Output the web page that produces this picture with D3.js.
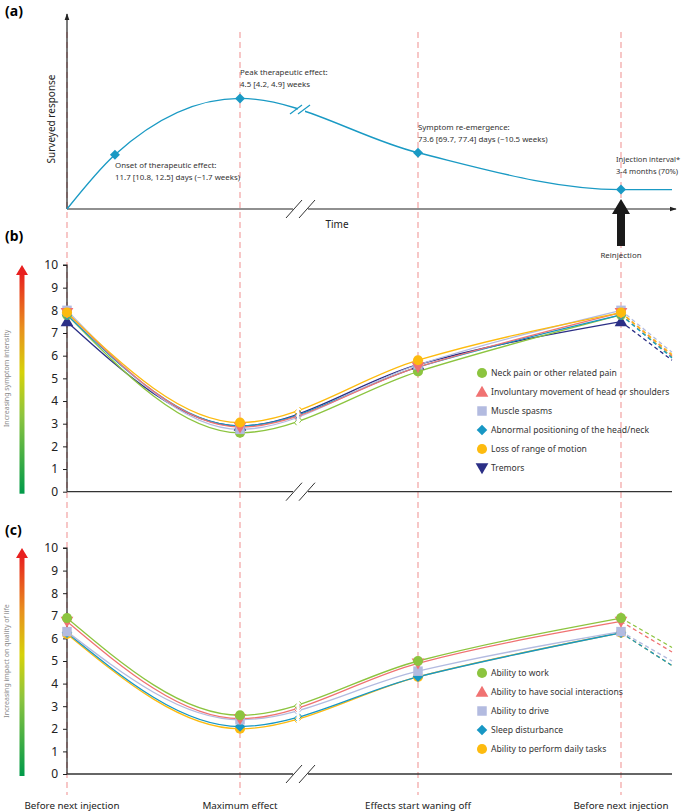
<!DOCTYPE html>
<html><head><meta charset="utf-8">
<script src="https://cdn.jsdelivr.net/npm/d3@7"></script>
<style>body{margin:0;background:#fff;} text{font-family:"Noto Sans",sans-serif;}</style>
</head><body>
<svg id="c" width="685" height="811"></svg>
<script>
// ---------- DATA ----------
const stages = ["Before next injection","Maximum effect","Effects start waning off","Before next injection"];
const stageIdx = [0,1,2,3];
const projStage = 3.25;
const yTicks = [0,1,2,3,4,5,6,7,8,9,10];

// panel (a)
const aStage = [0, 0.277, 1, 2, 3, 3.25];
const aResponse = [0, 2.8, 5.7, 2.9, 1.0, 1.0];
const aMarkerIdx = [1,2,3,4];
const aLabels = [
  ["Onset of therapeutic effect:","11.7 [10.8, 12.5] days (~1.7 weeks)"],
  ["Peak therapeutic effect:","4.5 [4.2, 4.9] weeks"],
  ["Symptom re-emergence:","73.6 [69.7, 77.4] days (~10.5 weeks)"],
  ["Injection interval*","3-4 months (70%)"]
];

// panel (b) symptoms
const symptomNames = ["Neck pain or other related pain","Involuntary movement of head or shoulders","Muscle spasms","Abnormal positioning of the head/neck","Loss of range of motion","Tremors"];
const neckPain   = [7.8, 2.6, 5.3, 7.8];
const involMove  = [7.9, 2.85, 5.5, 7.9];
const spasms     = [8.0, 2.75, 5.6, 8.0];
const abnormPos  = [7.8, 2.9, 5.5, 7.8];
const lossRange  = [7.9, 3.05, 5.8, 7.9];
const tremors    = [7.5, 2.9, 5.6, 7.5];
const symptomProj = [5.95, 6.0, 6.15, 5.9, 6.05, 5.8];

// panel (c) quality of life
const qolNames = ["Ability to work","Ability to have social interactions","Ability to drive","Sleep disturbance","Ability to perform daily tasks"];
const work    = [6.9, 2.6, 5.0, 6.9];
const social  = [6.75, 2.45, 4.9, 6.75];
const drive   = [6.3, 2.4, 4.55, 6.3];
const sleep   = [6.25, 2.1, 4.3, 6.25];
const daily   = [6.2, 2.0, 4.3, 6.25];
const qolProj = [5.6, 5.4, 5.0, 4.8, 4.8];

// styles
const colGreen="#8cc43f", colRed="#f07272", colLav="#b3bbe0", colTeal="#1797c4", colYel="#fdbb0f", colNavy="#2b2f86";

const svg = d3.select("#c");
const x = d3.scaleLinear().domain([0,1,2,3,3.25]).range([67,240,418,621,672]);

svg.append("g").selectAll("line").data(stageIdx).join("line")
  .attr("x1",d=>x(d)).attr("x2",d=>x(d)).attr("y1",32).attr("y2",795)
  .attr("stroke","#f6b9b9").attr("stroke-width",1.6).attr("stroke-dasharray","6,4");

const defs = svg.append("defs");
defs.append("marker").attr("id","arr").attr("viewBox","0 0 10 10").attr("refX",9).attr("refY",5)
  .attr("markerWidth",6).attr("markerHeight",6).attr("orient","auto")
  .append("path").attr("d","M0,1.5L10,5L0,8.5Z").attr("fill","#222");
const clip = defs.append("clipPath").attr("id","brk");
clip.append("rect").attr("x",0).attr("y",0).attr("width",295).attr("height",811);
clip.append("rect").attr("x",301).attr("y",0).attr("width",400).attr("height",811);
const clipA = defs.append("clipPath").attr("id","brkA");
clipA.append("rect").attr("x",0).attr("y",0).attr("width",298).attr("height",811);
clipA.append("rect").attr("x",305).attr("y",0).attr("width",400).attr("height",811);

const grad = defs.append("linearGradient").attr("id","grad").attr("x1",0).attr("y1",1).attr("x2",0).attr("y2",0);
grad.append("stop").attr("offset","0%").attr("stop-color","#009a49");
grad.append("stop").attr("offset","35%").attr("stop-color","#8cc43f");
grad.append("stop").attr("offset","55%").attr("stop-color","#d6d20a");
grad.append("stop").attr("offset","75%").attr("stop-color","#e8901e");
grad.append("stop").attr("offset","100%").attr("stop-color","#e8201f");

function brkSlashes(g, cx, cy){
  [0,13].forEach(o=>{
    g.append("line").attr("x1",cx+o-8).attr("y1",cy+9).attr("x2",cx+o+8).attr("y2",cy-9)
      .attr("stroke","#333").attr("stroke-width",1);
  });
}

// ---------- PANEL (a) ----------
{
  const yA = d3.scaleLinear().domain([0,10]).range([209,15]);
  const g = svg.append("g");
  g.append("text").attr("x",5).attr("y",16).attr("font-size",14).attr("font-weight","bold").attr("font-family","Liberation Sans, Arial").text("(a)");
  g.append("line").attr("x1",67).attr("y1",209).attr("x2",67).attr("y2",14).attr("stroke","#222").attr("stroke-width",1.2).attr("marker-end","url(#arr)");
  g.append("line").attr("x1",67).attr("y1",209).attr("x2",293).attr("y2",209).attr("stroke","#222").attr("stroke-width",1.2);
  g.append("line").attr("x1",308).attr("y1",209).attr("x2",676).attr("y2",209).attr("stroke","#222").attr("stroke-width",1.2).attr("marker-end","url(#arr)");
  brkSlashes(g, 294, 209);
  g.append("text").attr("x",337).attr("y",228).attr("text-anchor","middle").attr("font-size",10).attr("fill","#222").text("Time");
  g.append("text").attr("transform","translate(55,119) rotate(-90)").attr("text-anchor","middle").attr("font-size",10).attr("fill","#222").text("Surveyed response");
  const pts = aStage.map((s,i)=>[x(s), yA(aResponse[i])]);
  g.append("path").attr("d", d3.line().curve(d3.curveMonotoneX)(pts)).attr("fill","none")
    .attr("stroke","#1a9ac4").attr("stroke-width",1.4).attr("clip-path","url(#brkA)");
  [296,304].forEach(xx=>{
    g.append("line").attr("x1",xx-6).attr("y1",114).attr("x2",xx+6).attr("y2",105).attr("stroke","#1a9ac4").attr("stroke-width",1.2);
  });
  aMarkerIdx.forEach(i=>{
    g.append("path").attr("d",d3.symbol(d3.symbolSquare,50)())
      .attr("transform",`translate(${pts[i][0]},${pts[i][1]}) rotate(45)`).attr("fill","#1a9ac4");
  });
  const lblPos = [[115,168],[240,75],[418,130],[616,162]];
  aLabels.forEach((l,i)=>{
    const t = g.append("text").attr("x",lblPos[i][0]).attr("y",lblPos[i][1]).attr("font-size",i===3?7.6:7.9).attr("fill","#333");
    t.append("tspan").attr("x",lblPos[i][0]).text(l[0]);
    t.append("tspan").attr("x",lblPos[i][0]).attr("dy",11.5).text(l[1]);
  });
  const ax = x(3);
  g.append("path").attr("d",`M${ax-4},246 L${ax-4},214 L${ax-9},214 L${ax},199 L${ax+9},214 L${ax+4},214 L${ax+4},246 Z`).attr("fill","#1a1a1a");
  g.append("text").attr("x",ax).attr("y",258).attr("text-anchor","middle").attr("font-size",7.9).attr("fill","#333").text("Reinjection");
}

// ---------- generic panel ----------
const shapes = {
  circle: d3.symbol(d3.symbolCircle, 80),
  square: d3.symbol(d3.symbolSquare, 90),
  diamond: d3.symbol(d3.symbolSquare, 56),
  triUp: d3.symbol(d3.symbolTriangle, 70),
};
function marker(g, shape, cx, cy, color){
  let p = g.append("path").attr("fill",color);
  if(shape==="circle") p.attr("d",shapes.circle()).attr("transform",`translate(${cx},${cy})`);
  else if(shape==="square") p.attr("d",shapes.square()).attr("transform",`translate(${cx},${cy})`);
  else if(shape==="diamond") p.attr("d",shapes.diamond()).attr("transform",`translate(${cx},${cy}) rotate(45)`);
  else if(shape==="triUp") p.attr("d",shapes.triUp()).attr("transform",`translate(${cx},${cy+1})`);
  else if(shape==="triDown") p.attr("d",shapes.triUp()).attr("transform",`translate(${cx},${cy-1}) rotate(180)`);
}

function panel(cfg){
  const y = d3.scaleLinear().domain([0,10]).range([cfg.y0, cfg.y10]);
  const g = svg.append("g");
  g.append("text").attr("x",5).attr("y",cfg.labelY).attr("font-size",14).attr("font-weight","bold").attr("font-family","Liberation Sans, Arial").text(cfg.label);
  const ax = g.append("g").attr("transform","translate(67,0)").call(d3.axisLeft(y).tickValues(yTicks).tickSize(4).tickPadding(5).tickFormat(d3.format("d")));
  ax.select(".domain").attr("stroke","#222").attr("stroke-width",1.2).attr("d",`M-4,${cfg.y10}H0V${cfg.y0}`);
  ax.selectAll(".tick line").attr("stroke","#222");
  ax.selectAll(".tick text").attr("font-size",12).attr("fill","#222").attr("font-family","Noto Sans, sans-serif");
  g.append("line").attr("x1",67).attr("y1",cfg.y0).attr("x2",293).attr("y2",cfg.y0).attr("stroke","#333").attr("stroke-width",1.3);
  g.append("line").attr("x1",308).attr("y1",cfg.y0).attr("x2",672).attr("y2",cfg.y0).attr("stroke","#333").attr("stroke-width",1.3);
  brkSlashes(g, 294, cfg.y0);
  const gx = 22;
  g.append("rect").attr("x",gx-2.5).attr("y",cfg.y10+8).attr("width",5).attr("height",cfg.y0-cfg.y10-6).attr("fill","url(#grad)");
  g.append("path").attr("d",`M${gx-6},${cfg.y10+10}L${gx},${cfg.y10}L${gx+6},${cfg.y10+10}Z`).attr("fill","#e8201f");
  g.append("text").attr("transform",`translate(9,${(cfg.y0+cfg.y10)/2}) rotate(-90)`).attr("text-anchor","middle")
    .attr("font-size",7).attr("fill","#8a8a8a").text(cfg.axisTitle);
  const line = d3.line().curve(d3.curveMonotoneX);
  const order = cfg.drawOrder;
  order.forEach(i=>{
    const s = cfg.series[i];
    const pts = stageIdx.map(k=>[x(k), y(s.values[k])]);
    g.append("path").attr("d",line(pts)).attr("fill","none").attr("stroke",s.color).attr("stroke-width",1.3).attr("clip-path","url(#brk)");
    const yAt = xx => { const p = g.append("path").attr("d",line(pts)).attr("visibility","hidden").node();
      const L = p.getTotalLength(); let lo=0, hi=L; for(let it=0;it<30;it++){const m=(lo+hi)/2; if(p.getPointAtLength(m).x<xx) lo=m; else hi=m;} const yy=p.getPointAtLength(lo).y; p.remove(); return yy; };
    [[294.5,-1],[301.5,1]].forEach(([xx,dir])=>{
      const yy = yAt(xx);
      g.append("path").attr("d",`M${xx-2*dir},${yy-2.5}L${xx},${yy}L${xx-2*dir},${yy+2.5}`).attr("fill","none").attr("stroke",s.color).attr("stroke-width",1);
    });
    g.append("line").attr("x1",x(3)).attr("y1",y(s.values[3])).attr("x2",x(projStage)).attr("y2",y(s.proj))
      .attr("stroke",s.color).attr("stroke-width",1.3).attr("stroke-dasharray","4,3");
  });
  order.forEach(i=>{
    const s = cfg.series[i];
    stageIdx.forEach(k=>marker(g, s.chartShape, x(k), y(s.values[k]), s.color));
  });
  cfg.series.forEach((s,i)=>{
    const ly = cfg.legendY + i*19;
    marker(g, s.legendShape, 482, ly, s.color);
    g.append("text").attr("x",491).attr("y",ly+3.3).attr("font-size",8.6).attr("fill","#333").text(s.name);
  });
}

const symptomVals = [neckPain, involMove, spasms, abnormPos, lossRange, tremors];
const symptomCols = [colGreen, colRed, colLav, colTeal, colYel, colNavy];
const symptomChartShape = ["circle","triDown","square","diamond","circle","triUp"];
const symptomLegShape = ["circle","triUp","square","diamond","circle","triDown"];
panel({
  label:"(b)", labelY:241, y0:491.7, y10:265, axisTitle:"Increasing symptom intensity", legendY:373,
  series: symptomNames.map((n,i)=>({name:n, values:symptomVals[i], proj:symptomProj[i], color:symptomCols[i], chartShape:symptomChartShape[i], legendShape:symptomLegShape[i]})),
  drawOrder:[5,0,3,2,1,4]
});

const qolVals = [work, social, drive, sleep, daily];
const qolCols = [colGreen, colRed, colLav, colTeal, colYel];
const qolChartShape = ["circle","triDown","square","diamond","circle"];
const qolLegShape = ["circle","triUp","square","diamond","circle"];
panel({
  label:"(c)", labelY:535, y0:774, y10:548, axisTitle:"Increasing impact on quality of life", legendY:673,
  series: qolNames.map((n,i)=>({name:n, values:qolVals[i], proj:qolProj[i], color:qolCols[i], chartShape:qolChartShape[i], legendShape:qolLegShape[i]})),
  drawOrder:[4,3,2,1,0]
});

svg.append("g").selectAll("text").data(stageIdx).join("text")
  .attr("x",d=>d===0?72:x(d)).attr("y",809).attr("text-anchor","middle").attr("font-size",9.8).attr("fill","#222")
  .text(d=>stages[d]);
</script>
</body></html>
